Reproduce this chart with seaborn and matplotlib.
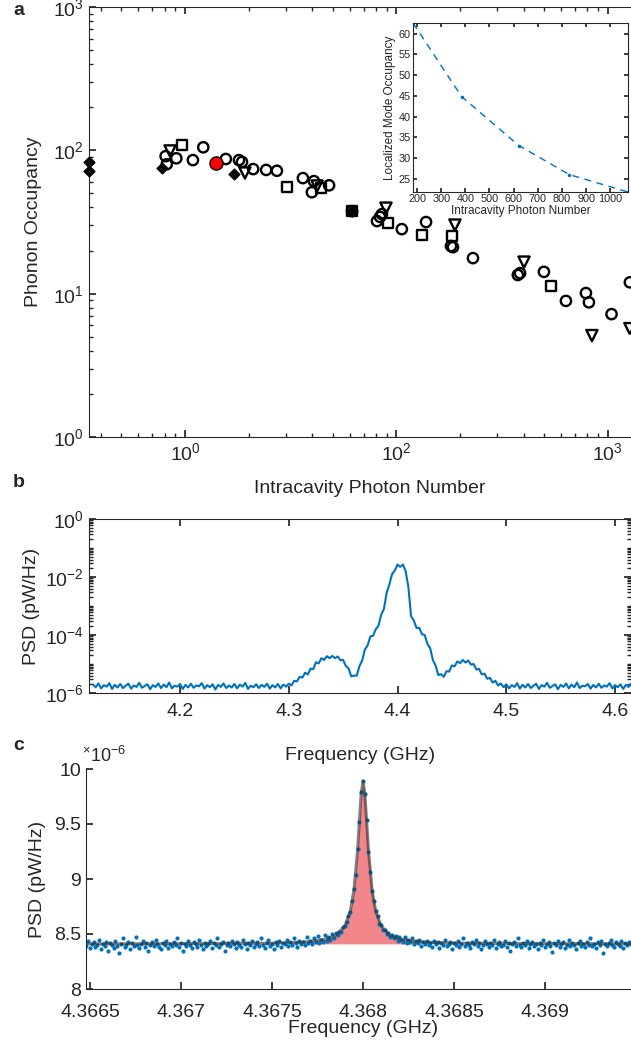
import numpy as np
import matplotlib
matplotlib.use("Agg")
import matplotlib.pyplot as plt
import seaborn as sns
from matplotlib.ticker import LogLocator, NullFormatter

# ---------------- panel a : phonon occupancy vs photon number ----------------
circ_x = [0.81, 0.82, 0.91, 1.09, 1.22, 1.56, 1.80, 1.86, 2.10, 2.42, 2.72, 3.61,
          4.07, 3.98, 4.80, 6.16, 8.54, 8.36, 8.09, 10.6, 13.8, 18.1, 18.5, 23.0,
          38.4, 37.5, 49.8, 63.3, 78.7, 81.3, 104, 127]
circ_y = [91, 80, 88, 85.5, 105, 87, 85.5, 83, 74, 73, 72, 64,
          61, 51, 57, 37.7, 35.9, 34.3, 32.1, 28.2, 31.6, 21.5, 21.1, 17.7,
          13.9, 13.5, 14.2, 8.9, 10.1, 8.7, 7.2, 12.0]
sq_x = [0.97, 3.04, 4.40, 6.16, 9.12, 13.2, 18.3, 53.7]
sq_y = [109, 55.5, 54.6, 37.7, 31.1, 25.6, 25.2, 11.3]
tri_x = [0.85, 1.92, 4.21, 8.92, 18.9, 40.1, 84.0, 127]
tri_y = [99, 69.5, 56.4, 39.5, 30.1, 16.6, 5.1, 5.7]
dia_x = [0.352, 0.352, 0.78, 1.70, 6.16]
dia_y = [83, 72, 75, 68.4, 37.7]
red_x = [1.40]
red_y = [81.5]

# inset
ins_x = [183, 385, 622, 831, 1074]
ins_y = [62.6, 44.8, 33.0, 26.0, 21.8]

# ---------------- panel b : broadband PSD (log10 of pW/Hz) ----------------
psd_b_exp = [
    -5.71, -5.80, -5.67, -5.84, -5.73, -5.78, -5.66, -5.86, -5.72, -5.81,
    -5.69, -5.83, -5.75, -5.68, -5.85, -5.74, -5.79, -5.65, -5.82, -5.76,
    -5.70, -5.87, -5.73, -5.79, -5.67, -5.83, -5.71, -5.80, -5.64, -5.84,
    -5.75, -5.78, -5.69, -5.86, -5.72, -5.81, -5.68, -5.82, -5.74, -5.77,
    -5.66, -5.85, -5.73, -5.80, -5.70, -5.88, -5.72, -5.79, -5.67, -5.83,
    -5.74, -5.81, -5.69, -5.84, -5.71, -5.78, -5.65, -5.86, -5.75, -5.80,
    -5.70, -5.83, -5.72, -5.79, -5.68, -5.85, -5.73, -5.81, -5.69, -5.84,
    -5.71, -5.78,
    -5.68, -5.74, -5.58, -5.60, -5.44, -5.47, -5.30, -5.36, -5.16, -5.18,
    -4.94, -4.98, -4.80, -4.86, -4.73, -4.80, -4.72, -4.80, -4.74, -4.87,
    -4.86, -5.07, -5.15, -5.43, -5.40, -5.40, -5.07, -4.88, -4.50, -4.36,
    -4.05, -4.03, -3.80, -3.68, -3.30, -3.10, -2.55, -2.26, -1.90, -1.78,
    -1.57, -1.65, -1.57, -1.80, -2.35, -3.36, -3.50, -3.76, -3.75, -3.98,
    -4.00, -4.31, -4.45, -4.86, -5.05, -5.38, -5.35, -5.44, -5.25, -5.26,
    -5.05, -5.08, -4.91, -4.97, -4.86, -4.95, -4.88, -5.02, -5.00, -5.19,
    -5.17, -5.36, -5.33, -5.51, -5.48, -5.64, -5.58, -5.74, -5.67,
    -5.80, -5.70, -5.84, -5.73, -5.79, -5.66, -5.85, -5.72, -5.81, -5.69,
    -5.83, -5.75, -5.68, -5.86, -5.73, -5.78, -5.65, -5.82, -5.76, -5.70,
    -5.87, -5.72, -5.79, -5.67, -5.84, -5.71, -5.80, -5.64, -5.83, -5.75,
    -5.77, -5.69, -5.85, -5.72, -5.81, -5.68, -5.82, -5.74, -5.78, -5.66,
    -5.84, -5.73, -5.80, -5.70, -5.86, -5.72, -5.79, -5.67, -5.82,
]
freq_b = np.linspace(4.12, 4.6175, len(psd_b_exp))

# ---------------- panel c : zoom on one mode (x1e-6 pW/Hz) ----------------
psd_c = [
    8.42, 8.39, 8.44, 8.37, 8.41, 8.43, 8.38, 8.40, 8.45, 8.36,
    8.41, 8.39, 8.43, 8.35, 8.42, 8.40, 8.37, 8.44, 8.39, 8.33,
    8.41, 8.46, 8.38, 8.40, 8.43, 8.36, 8.42, 8.39, 8.47, 8.40,
    8.37, 8.41, 8.44, 8.38, 8.42, 8.35, 8.40, 8.43, 8.39, 8.45,
    8.41, 8.38, 8.36, 8.42, 8.40, 8.44, 8.37, 8.41, 8.39, 8.43,
    8.40, 8.46, 8.38, 8.42, 8.35, 8.41, 8.39, 8.44, 8.40, 8.37,
    8.43, 8.41, 8.38, 8.45, 8.40, 8.36, 8.42, 8.39, 8.41, 8.44,
    8.37, 8.42, 8.40, 8.46, 8.38, 8.41, 8.43, 8.35, 8.40, 8.42,
    8.39, 8.44, 8.41, 8.37, 8.43, 8.40, 8.38, 8.45, 8.41, 8.36,
    8.42, 8.40, 8.44, 8.38, 8.41, 8.43, 8.39, 8.46, 8.40, 8.37,
    8.42, 8.45, 8.39, 8.41, 8.36, 8.43, 8.40, 8.44, 8.38, 8.42,
    8.41, 8.45, 8.39, 8.43, 8.40, 8.46, 8.42, 8.38, 8.44, 8.41,
    8.43, 8.40, 8.47, 8.42, 8.44, 8.41, 8.46, 8.43, 8.48, 8.42,
    8.45, 8.43, 8.49, 8.44, 8.47, 8.45, 8.50, 8.46, 8.51, 8.49,
    8.52, 8.52, 8.56, 8.57, 8.61, 8.66, 8.70, 8.80, 8.91, 9.04,
    9.27, 9.52, 9.79, 9.89, 9.77, 9.54, 9.25, 9.06, 8.89, 8.80,
    8.71, 8.66, 8.59, 8.58, 8.54, 8.54, 8.50, 8.51, 8.47, 8.49,
    8.46, 8.48, 8.44, 8.47, 8.45, 8.43, 8.47, 8.42, 8.45, 8.43,
    8.46, 8.41, 8.44, 8.42, 8.45, 8.39, 8.43, 8.41, 8.44, 8.40,
    8.42, 8.38, 8.44, 8.41, 8.43, 8.37, 8.42, 8.40, 8.45, 8.39,
    8.41, 8.43, 8.36, 8.42, 8.40, 8.44, 8.38, 8.41, 8.46, 8.39,
    8.42, 8.40, 8.37, 8.43, 8.41, 8.45, 8.39, 8.42, 8.36, 8.40,
    8.44, 8.41, 8.38, 8.42, 8.40, 8.45, 8.37, 8.41, 8.43, 8.39,
    8.40, 8.44, 8.38, 8.42, 8.35, 8.41, 8.43, 8.39, 8.46, 8.40,
    8.38, 8.42, 8.40, 8.44, 8.37, 8.41, 8.43, 8.39, 8.41, 8.36,
    8.42, 8.40, 8.45, 8.38, 8.41, 8.43, 8.39, 8.34, 8.42, 8.40,
    8.44, 8.38, 8.41, 8.43, 8.37, 8.40, 8.45, 8.39, 8.42, 8.40,
    8.36, 8.42, 8.44, 8.39, 8.41, 8.38, 8.43, 8.40, 8.46, 8.39,
    8.41, 8.37, 8.43, 8.40, 8.44, 8.33, 8.41, 8.39, 8.42, 8.45,
    8.40, 8.38, 8.43, 8.41, 8.39, 8.44, 8.37, 8.42, 8.40, 8.43, 8.41,
]
freq_c = np.linspace(4.36647, 4.36947, len(psd_c))

# lorentzian fit
fit_f = [4.36647, 4.3670, 4.3675, 4.3676, 4.3677, 4.3678, 4.36785, 4.3679,
         4.36793, 4.36795, 4.36797, 4.36798, 4.36799, 4.3680, 4.36801, 4.36802,
         4.36803, 4.36805, 4.36807, 4.3681, 4.36815, 4.3682, 4.3683, 4.3684,
         4.3685, 4.3690, 4.36947]
fit_y = [8.41, 8.412, 8.417, 8.421, 8.430, 8.454, 8.486, 8.572,
         8.706, 8.897, 9.263, 9.525, 9.778, 9.89, 9.778, 9.525,
         9.263, 8.897, 8.706, 8.572, 8.486, 8.454, 8.430, 8.421,
         8.417, 8.412, 8.41]
fit_base = 8.41

# ---------------- style ----------------
sns.set_theme(style="ticks")
plt.rcParams["font.family"] = ["Liberation Sans", "DejaVu Sans"]
plt.rcParams.update({
    "mathtext.fontset": "custom",
    "mathtext.rm": "Liberation Sans",
    "mathtext.default": "regular",
    "xtick.direction": "in",
    "ytick.direction": "in",
    "axes.edgecolor": "#262626",
    "axes.linewidth": 0.8,
    "text.color": "#262626",
    "axes.labelcolor": "#262626",
    "xtick.color": "#262626",
    "ytick.color": "#262626",
    "font.size": 14,
    "axes.labelsize": 14,
    "xtick.labelsize": 14,
    "ytick.labelsize": 14,
})

W, H = 631, 1046
fig = plt.figure(figsize=(W / 100, H / 100), dpi=100)


def box(l, t, r, b):
    # pixel box -> figure fraction
    return [l / W, 1 - b / H, (r - l) / W, (b - t) / H]


blue = "#0072BD"

# ---- a ----
ax = fig.add_axes(box(89, 7, 650, 437))
ax.set_xscale("log")
ax.set_yscale("log")
mk = dict(ax=ax, color="black", facecolor="none", edgecolor="black", linewidth=1.7, zorder=3)
sns.scatterplot(x=circ_x, y=circ_y, marker="o", s=55, **mk)
sns.scatterplot(x=sq_x, y=sq_y, marker="s", s=50, **mk)
sns.scatterplot(x=tri_x, y=tri_y, marker="v", s=65, **mk)
sns.scatterplot(x=dia_x, y=dia_y, ax=ax, marker="D", s=30, color="black", edgecolor="black",
                linewidth=1, zorder=4, clip_on=False)
sns.scatterplot(x=red_x, y=red_y, ax=ax, marker="o", s=90, color="red", edgecolor="black",
                linewidth=1, zorder=5)
ax.set_xlim(0.3516, 158.1)
ax.set_ylim(1, 1000)
ax.set_xticks([1, 10, 100])
ax.set_xticklabels(["$10^{0}$", "$10^{2}$", "$10^{3}$"])
ax.set_yticks([1, 10, 100, 1000])
ax.set_yticklabels(["$10^{0}$", "$10^{1}$", "$10^{2}$", "$10^{3}$"])
ax.tick_params(which="both", top=True, right=True)
ax.tick_params(which="major", length=5)
ax.tick_params(which="minor", length=3)
ax.set_xlabel("Intracavity Photon Number", labelpad=12)
ax.set_ylabel("Phonon Occupancy", labelpad=8)

# inset
axi = fig.add_axes(box(413, 23, 628, 192))
sns.lineplot(x=ins_x, y=ins_y, ax=axi, color=blue, lw=1, ls=(0, (5, 4)),
             marker="o", markersize=2.5, markeredgewidth=0, estimator=None, sort=False)
axi.set_xlim(ins_x[0], ins_x[-1])
axi.set_ylim(min(ins_y), max(ins_y))
axi.set_xticks(range(200, 1001, 100))
axi.set_yticks(range(25, 61, 5))
axi.tick_params(which="both", top=True, right=True, labelsize=7.8, length=3, pad=1.5)
axi.set_xlabel("Intracavity Photon Number", fontsize=8.5, labelpad=0.5)
axi.set_ylabel("Localized Mode Occupancy", fontsize=8.5, labelpad=2)

# ---- b ----
axb = fig.add_axes(box(89, 519, 631, 693))
sns.lineplot(x=freq_b, y=10.0 ** np.array(psd_b_exp), ax=axb, color=blue, lw=1.5,
             estimator=None, sort=False)
axb.set_yscale("log")
axb.set_xlim(4.1163, 4.6147)
axb.set_ylim(1e-6, 1)
axb.set_xticks([4.2, 4.3, 4.4, 4.5, 4.6])
axb.set_xticklabels(["4.2", "4.3", "4.4", "4.5", "4.6"])
axb.set_yticks([1e-6, 1e-4, 1e-2, 1])
axb.set_yticklabels(["$10^{-6}$", "$10^{-4}$", "$10^{-2}$", "$10^{0}$"])
axb.yaxis.set_minor_locator(LogLocator(base=10, subs=np.arange(1, 10), numticks=50))
axb.yaxis.set_minor_formatter(NullFormatter())
axb.tick_params(which="both", top=True, right=True)
axb.tick_params(which="major", length=5)
axb.tick_params(which="minor", length=3)
axb.tick_params(axis="x", pad=7)
axb.set_xlabel("Frequency (GHz)", labelpad=20)
axb.set_ylabel("PSD (pW/Hz)", labelpad=4)

# ---- c ----
axc = fig.add_axes(box(86, 769, 640, 989))
axc.fill_between(fit_f[4:23], fit_base, fit_y[4:23], color="#f3868a", lw=0, zorder=1)
sns.scatterplot(x=freq_c, y=psd_c, ax=axc, color=blue, s=9, linewidth=0, zorder=2)
sns.lineplot(x=fit_f, y=fit_y, ax=axc, color="#303030", lw=2.2, alpha=0.6,
             estimator=None, sort=False, zorder=3)
axc.set_xlim(4.366478, 4.369522)
axc.set_ylim(8, 10)
axc.set_xticks([4.3665, 4.367, 4.3675, 4.368, 4.3685, 4.369])
axc.set_xticklabels(["4.3665", "4.367", "4.3675", "4.368", "4.3685", "4.369"])
axc.set_yticks([8, 8.5, 9, 9.5, 10])
axc.set_yticklabels(["8", "8.5", "9", "9.5", "10"])
axc.spines[["top", "right"]].set_visible(False)
axc.tick_params(length=5)
axc.tick_params(axis="x", pad=11)
axc.set_xlabel("Frequency (GHz)", labelpad=-1)
axc.set_ylabel("PSD (pW/Hz)", labelpad=6)
fig.text(82 / W, 1 - 762 / H, r"$^{\times}10^{-6}$", fontsize=13, ha="left", va="baseline")

# panel letters
fig.text(13 / W, 1 - 15 / H, "a", fontsize=14, weight="bold", va="baseline")
fig.text(13 / W, 1 - 487 / H, "b", fontsize=14, weight="bold", va="baseline")
fig.text(13 / W, 1 - 750 / H, "c", fontsize=14, weight="bold", va="baseline")

fig.savefig("out.png", dpi=100)
